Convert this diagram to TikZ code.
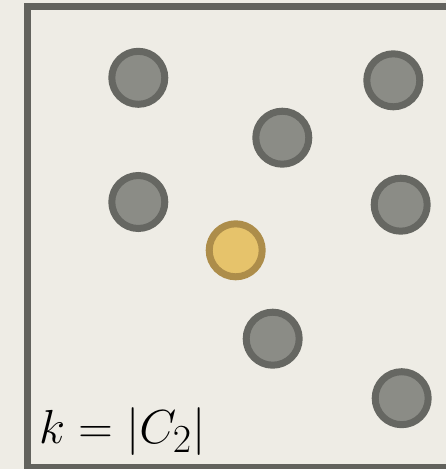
\documentclass[tikz,border=0pt]{standalone}
\definecolor{bgc}{HTML}{EEECE5}
\definecolor{framec}{HTML}{62625D}
\definecolor{dotfill}{HTML}{8B8C86}
\definecolor{dotdraw}{HTML}{666762}
\definecolor{hlfill}{HTML}{E6C36B}
\definecolor{hldraw}{HTML}{AD8D4A}
\tikzset{
  dot/.style={circle, minimum size=53pt, inner sep=0pt, fill=dotfill, draw=dotdraw, line width=7pt},
  hldot/.style={dot, fill=hlfill, draw=hldraw},
  lbl/.style={inner sep=0pt, anchor=base west}
}
\begin{document}
\begin{tikzpicture}[x=1pt,y=-1pt]
\useasboundingbox (0,0) rectangle (446,469);
\fill[bgc] (0,0) rectangle (446,469);
\begin{scope}
\clip (0,0) rectangle (446,469);
\draw[framec, line width=7pt] (27.5,6.7) rectangle (470,467);
\end{scope}
\node[dot] (p1) at (138.3,77.8) {};
\node[dot] (p2) at (393.3,80.3) {};
\node[dot] (p3) at (282.3,137.7) {};
\node[dot] (p4) at (138.3,202) {};
\node[dot] (p5) at (400.7,204.7) {};
\node[hldot] (c) at (235.7,250.3) {};
\node[dot] (p6) at (272.7,338.7) {};
\node[dot] (p7) at (401.7,398.2) {};
\node[lbl] (t) at (39,443) {\scalebox{1.92}{\Huge $k = |C_2|$}};
\end{tikzpicture}
\end{document}
